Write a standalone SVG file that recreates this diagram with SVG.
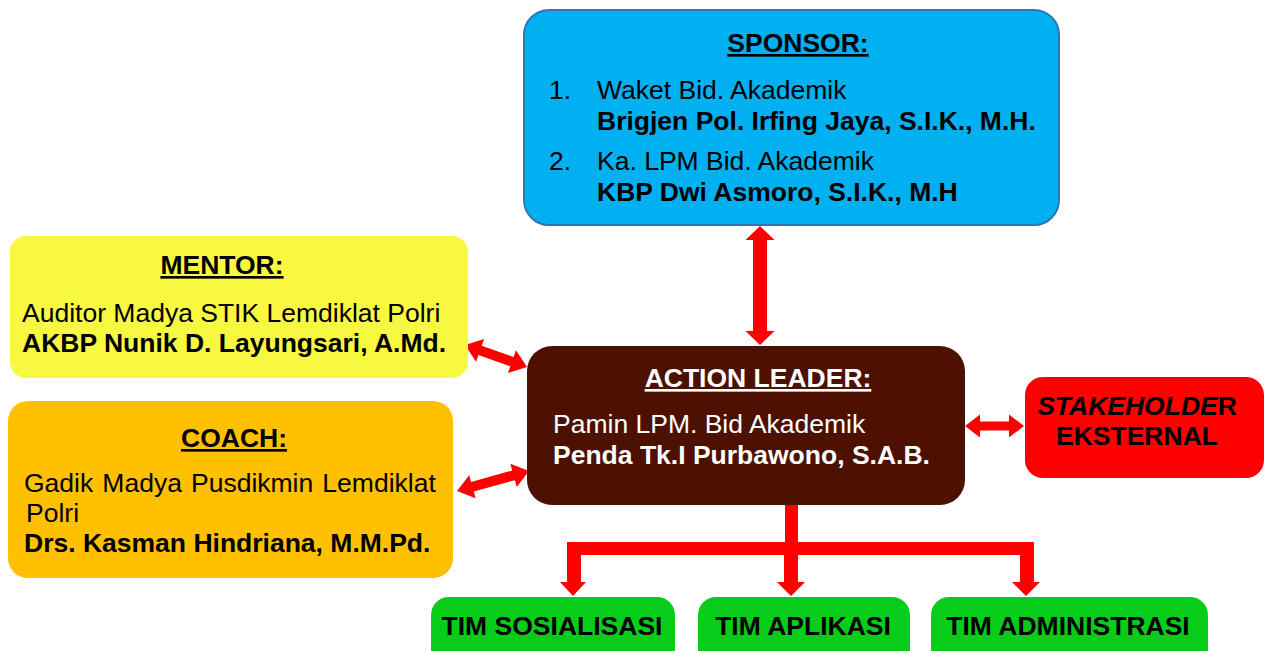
<svg xmlns="http://www.w3.org/2000/svg" width="1264" height="651" viewBox="0 0 1264 651">
<style>
text{font-family:"Liberation Sans",Arial,sans-serif;font-size:26.5px;fill:#000}
.b{font-weight:bold}
.u{text-decoration:underline}
.w{fill:#fff}
.arr{fill:#ff0000}
</style>
<rect width="1264" height="651" fill="#fff"/>
<g id="connectors" class="arr">
  <polygon points="760,226 774.5,240 767,240 767,331 774.5,331 760,345 745.5,331 753,331 753,240 745.5,240"/>
  <polygon transform="translate(465,345) rotate(19.5)" points="0,0 16,-12 16,-5 49.8,-5 49.8,-12 65.8,0 49.8,12 49.8,5 16,5 16,12"/>
  <polygon transform="translate(457,491) rotate(-15.5)" points="0,0 16,-12 16,-5 58.7,-5 58.7,-12 74.7,0 58.7,12 58.7,5 16,5 16,12"/>
  <polygon points="965,426 980,414.5 980,421.5 1009,421.5 1009,414.5 1024,426 1009,437.5 1009,430.5 980,430.5 980,437.5"/>
  <rect x="785" y="504" width="13" height="45"/>
  <rect x="567" y="542" width="467" height="13"/>
  <polygon points="567,555 581,555 581,582 586,582 573,596 560,582 567,582"/>
  <polygon points="784,555 798,555 798,582 805,582 791,596 777,582 784,582"/>
  <polygon points="1020,555 1034,555 1034,582 1040,582 1026,596 1012,582 1020,582"/>
</g>
<g id="sponsor">
  <rect x="524" y="10" width="535" height="215" rx="25" fill="#00b0f0" stroke="#2e75b6" stroke-width="2"/>
  <text x="798" y="52" text-anchor="middle" class="b u">SPONSOR:</text>
  <text x="549" y="99">1.</text>
  <text x="597" y="99">Waket Bid. Akademik</text>
  <text x="597" y="130" class="b">Brigjen Pol. Irfing Jaya, S.I.K., M.H.</text>
  <text x="549" y="170">2.</text>
  <text x="597" y="170">Ka. LPM Bid. Akademik</text>
  <text x="597" y="201" class="b">KBP Dwi Asmoro, S.I.K., M.H</text>
</g>
<g id="mentor">
  <rect x="10" y="236" width="458" height="142" rx="16" fill="#f8f840"/>
  <text x="222" y="274" text-anchor="middle" class="b u">MENTOR:</text>
  <text x="22" y="322">Auditor Madya STIK Lemdiklat Polri</text>
  <text x="22" y="352" class="b">AKBP Nunik D. Layungsari, A.Md.</text>
</g>
<g id="coach">
  <rect x="8" y="401" width="445" height="177" rx="20" fill="#ffc000"/>
  <text x="234" y="447" text-anchor="middle" class="b u">COACH:</text>
  <text x="24" y="492" word-spacing="1.75">Gadik Madya Pusdikmin Lemdiklat</text>
  <text x="26" y="522">Polri</text>
  <text x="24" y="552" class="b">Drs. Kasman Hindriana, M.M.Pd.</text>
</g>
<g id="action-leader">
  <rect x="527" y="346" width="438" height="159" rx="25" fill="#4c1100"/>
  <text x="758" y="387" text-anchor="middle" class="b u w">ACTION LEADER:</text>
  <text x="553" y="433" class="w">Pamin LPM. Bid Akademik</text>
  <text x="553" y="464" class="b w">Penda Tk.I Purbawono, S.A.B.</text>
</g>
<g id="stakeholder">
  <rect x="1025" y="377" width="239" height="101" rx="18" fill="#ff0000"/>
  <text x="1137" y="415" text-anchor="middle" class="b"><tspan font-style="italic">STAKEHOLDE</tspan>R</text>
  <text x="1137" y="445" text-anchor="middle" class="b">EKSTERNAL</text>
</g>
<g id="tim-sosialisasi">
  <rect x="431" y="597" width="244" height="70" rx="18" fill="#08cc1a"/>
  <text x="552" y="635" text-anchor="middle" class="b">TIM SOSIALISASI</text>
</g>
<g id="tim-aplikasi">
  <rect x="698" y="597" width="212" height="70" rx="18" fill="#08cc1a"/>
  <text x="803" y="635" text-anchor="middle" class="b">TIM APLIKASI</text>
</g>
<g id="tim-administrasi">
  <rect x="931" y="597" width="277" height="70" rx="18" fill="#08cc1a"/>
  <text x="1068" y="635" text-anchor="middle" class="b">TIM ADMINISTRASI</text>
</g>
</svg>
